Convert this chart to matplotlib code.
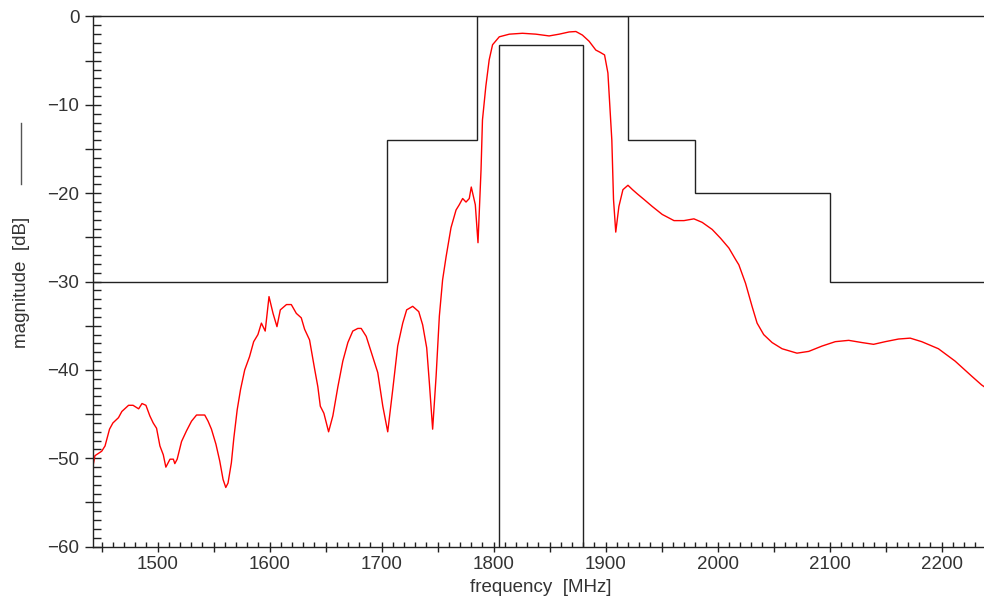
import matplotlib
matplotlib.use("Agg")
import matplotlib.pyplot as plt
from matplotlib.ticker import MultipleLocator, FuncFormatter
from matplotlib.lines import Line2D

# measured filter response (MHz, dB)
freq = [1442.5, 1444, 1450, 1453, 1457, 1460, 1465, 1468, 1474, 1478,
        1483, 1486, 1489.5, 1493, 1496, 1499, 1502, 1505, 1507.3, 1511,
        1514, 1515.3, 1517.4, 1521.3, 1525.7, 1530.2, 1534.7, 1542, 1545, 1548,
        1552, 1555.4, 1558.4, 1560.8, 1562.8, 1565.8, 1568, 1571, 1574, 1577.7,
        1582, 1585.7, 1589.5, 1592.6, 1596, 1599.4, 1603, 1606.5, 1609.5, 1615,
        1619.3, 1623.8, 1628.2, 1631.2, 1635.6, 1640, 1643, 1645.2, 1648.4, 1652.6,
        1656.4, 1660.9, 1665.3, 1669.8, 1674.2, 1678.7, 1681.7, 1686.2, 1692, 1696.5,
        1701, 1705.4, 1709.9, 1714.3, 1718.8, 1722.3, 1727.7, 1733.1, 1736.6, 1740.2,
        1742.6, 1745.5, 1748.6, 1751.5, 1754.4, 1757.5, 1761.9, 1766.4, 1769.3, 1772.3,
        1775.3, 1778.2, 1780, 1783.6, 1786, 1788.7, 1790, 1793, 1796, 1799,
        1805, 1814, 1825.7, 1837.7, 1849.5, 1858.5, 1867.4, 1873.4, 1879.2, 1885.2,
        1891.2, 1895, 1899, 1902, 1904.5, 1905.5, 1907, 1909, 1911.8, 1915.4,
        1919.9, 1924, 1928.5, 1934.2, 1941.6, 1950.5, 1961, 1969.9, 1978.8, 1986.2,
        1995.1, 2002.6, 2010, 2016, 2018.9, 2024.9, 2030.7, 2035.2, 2041.1, 2048.6,
        2057.5, 2070.8, 2081.3, 2093.1, 2105, 2117, 2128.8, 2139.2, 2149.6, 2161.5,
        2171.9, 2182.2, 2197.1, 2212, 2226.8, 2235.7, 2238]
mag = [-50.7, -49.7, -49.2, -48.6, -46.7, -46.0, -45.4, -44.7, -44.0, -44.0,
       -44.4, -43.8, -44.0, -45.2, -46.0, -46.6, -48.6, -49.6, -51.0, -50.1,
       -50.1, -50.6, -50.1, -48.1, -46.9, -45.8, -45.1, -45.1, -45.8, -46.7,
       -48.4, -50.3, -52.4, -53.3, -52.8, -50.5, -47.7, -44.5, -42.2, -40.0,
       -38.5, -36.8, -36.0, -34.7, -35.6, -31.7, -33.6, -35.1, -33.2, -32.6,
       -32.6, -33.6, -34.1, -35.4, -36.6, -39.8, -41.9, -44.1, -44.9, -47.0,
       -45.2, -41.9, -39.0, -36.9, -35.6, -35.3, -35.3, -36.2, -38.5, -40.3,
       -44.1, -47.0, -42.2, -37.3, -34.7, -33.2, -32.8, -33.4, -34.9, -37.5,
       -41.5, -46.7, -40.7, -33.9, -29.8, -27.2, -23.9, -21.9, -21.3, -20.6,
       -21.0, -20.6, -19.3, -21.3, -25.6, -17.4, -11.7, -7.9, -4.9, -3.2,
       -2.3, -2.0, -1.9, -2.0, -2.2, -2.0, -1.75, -1.7, -2.1, -2.8,
       -3.8, -4.05, -4.35, -6.4, -11.7, -14.0, -20.7, -24.4, -21.5, -19.6,
       -19.1, -19.6, -20.1, -20.7, -21.5, -22.4, -23.1, -23.1, -22.9, -23.3,
       -24.1, -25.1, -26.2, -27.5, -28.1, -30.2, -32.8, -34.7, -36.0, -36.9,
       -37.6, -38.1, -37.9, -37.3, -36.8, -36.65, -36.9, -37.1, -36.8, -36.5,
       -36.4, -36.8, -37.6, -39.0, -40.7, -41.7, -41.9]

# stopband mask (upper limit)
mask_edges = [1440, 1705, 1785, 1920, 1980, 2100, 2240]
mask_levels = [-30, -14, 0, -14, -20, -30]

# passband mask (lower limit)
pass_edges = [1805, 1880]
pass_levels = [-3.2]

plt.rcParams["font.family"] = ["Liberation Sans", "DejaVu Sans"]

fig = plt.figure(figsize=(9.84, 6.04), dpi=100)
ax = fig.add_axes([0.0948, 0.0949, 0.9052, 0.8778])

ink = "#222222"
ax.stairs(mask_levels, mask_edges, baseline=None, color=ink, lw=1.0)
ax.stairs(pass_levels, pass_edges, baseline=-60, color=ink, lw=1.0)
ax.plot(freq, mag, color="red", lw=1.0)

ax.set_xlim(1442.5, 2237.8)
ax.set_ylim(-60, 0)

# ticks: major every 50 / 5 crossing the axis, minor inside
ax.xaxis.set_major_locator(MultipleLocator(50))
ax.xaxis.set_minor_locator(MultipleLocator(10))
ax.yaxis.set_major_locator(MultipleLocator(5))
ax.yaxis.set_minor_locator(MultipleLocator(1))
ax.xaxis.set_major_formatter(FuncFormatter(lambda v, p: f"{v:.0f}" if round(v) % 100 == 0 else ""))
ax.yaxis.set_major_formatter(FuncFormatter(lambda v, p: (f"{v:.0f}".replace("-", "\u2212")) if round(v) % 10 == 0 else ""))

ax.tick_params(axis="x", which="major", direction="inout", length=7, width=1.0,
               color=ink, labelsize=13.5, labelcolor="#333333", pad=3)
ax.tick_params(axis="x", which="minor", direction="in", length=3.6, width=1.0, color=ink)
ax.tick_params(axis="y", which="major", direction="inout", length=12, width=1.0,
               color=ink, labelsize=13.5, labelcolor="#333333", pad=4)
ax.tick_params(axis="y", which="minor", direction="in", length=6, width=1.0, color=ink)

for side in ["left", "bottom", "top"]:
    ax.spines[side].set_color(ink)
    ax.spines[side].set_linewidth(1.0)
ax.spines["right"].set_visible(False)

# axis labels
fig.text(541 / 984, 1 - 588 / 604, "frequency  [MHz]", ha="center", va="center",
         fontsize=13.5, color="#333333")
fig.text(22 / 984, 1 - 282 / 604, "magnitude  [dB]", ha="center", va="center",
         rotation=90, fontsize=13.5, color="#333333")
fig.add_artist(Line2D([20.7 / 984, 20.7 / 984], [1 - 123 / 604, 1 - 184 / 604],
                      color="#555555", lw=1.0))

fig.savefig("out.png", dpi=100)
